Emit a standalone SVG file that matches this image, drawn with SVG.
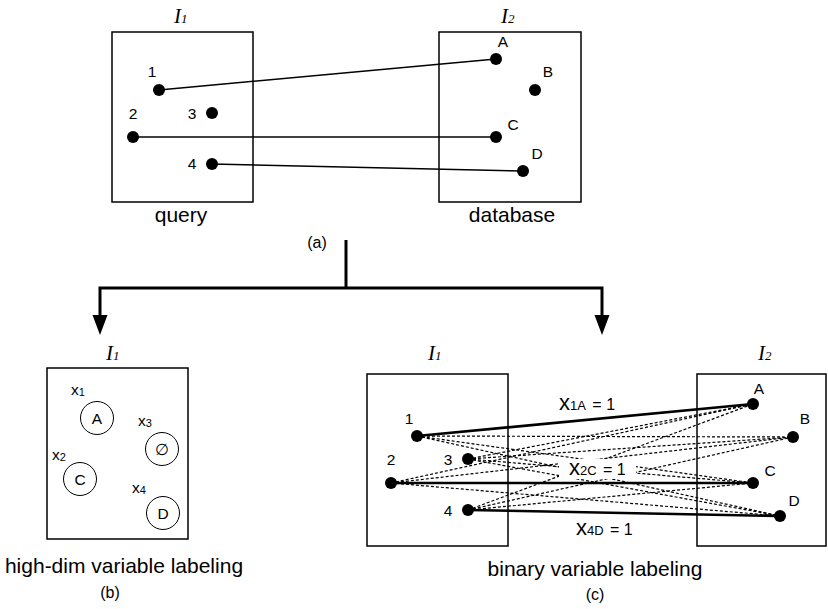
<svg xmlns="http://www.w3.org/2000/svg" width="828" height="609" viewBox="0 0 828 609">
<style>
.box{fill:#fff;stroke:#000;stroke-width:1.5}
.dot{fill:#000}
.lbl{font-family:"Liberation Sans",Arial,sans-serif;font-size:15.5px;fill:#000}
.cap{font-family:"Liberation Sans",Arial,sans-serif;font-size:21px;fill:#000;text-anchor:middle}
.sub{font-family:"Liberation Sans",Arial,sans-serif;font-size:16px;fill:#000;text-anchor:middle}
.ital{font-family:"Liberation Serif","Times New Roman",serif;font-style:italic;font-size:21px;fill:#000}
.thin{stroke:#000;stroke-width:1.5;fill:none}
.thick{stroke:#000;stroke-width:2.6;fill:none}
.dash{stroke:#000;stroke-width:1.2;stroke-dasharray:3 2;fill:none}
.arr{stroke:#000;stroke-width:3;fill:none}
.circ{fill:#fff;stroke:#000;stroke-width:1}
.mid{text-anchor:middle}
</style>
<rect width="828" height="609" fill="#fff"/>

<!-- (a) top -->
<g id="a-query">
<rect class="box" x="112" y="32" width="141" height="170"/>
<text class="ital" x="174" y="23">I<tspan font-size="13">1</tspan></text>
<text class="cap" x="181" y="222">query</text>
</g>
<g id="a-database">
<rect class="box" x="439" y="32" width="142" height="170"/>
<text class="ital" x="501" y="23">I<tspan font-size="13">2</tspan></text>
<text class="cap" x="512" y="222">database</text>
</g>
<g id="a-connectors">
<line class="thin" x1="159" y1="90" x2="496" y2="59"/>
<line class="thin" x1="133" y1="137" x2="496" y2="137"/>
<line class="thin" x1="212" y1="164" x2="523" y2="171"/>
</g>
<g id="a-points">
<circle class="dot" cx="159" cy="90" r="6"/><text class="lbl mid" x="152" y="77">1</text>
<circle class="dot" cx="133" cy="137" r="6"/><text class="lbl mid" x="133" y="119">2</text>
<circle class="dot" cx="212" cy="113" r="6"/><text class="lbl mid" x="192" y="119">3</text>
<circle class="dot" cx="212" cy="164" r="6"/><text class="lbl mid" x="192" y="169">4</text>
<circle class="dot" cx="496" cy="59" r="6"/><text class="lbl mid" x="503" y="47">A</text>
<circle class="dot" cx="535" cy="90" r="6"/><text class="lbl mid" x="548" y="77">B</text>
<circle class="dot" cx="496" cy="137" r="6"/><text class="lbl mid" x="513" y="130">C</text>
<circle class="dot" cx="523" cy="171" r="6"/><text class="lbl mid" x="537" y="159">D</text>
</g>
<text class="sub" x="317" y="248">(a)</text>

<!-- branching arrows -->
<g id="branch-connectors">
<polyline class="arr" points="346,240 346,288"/>
<polyline class="arr" points="100,318 100,288 602,288 602,318"/>
<polygon points="92.5,315 107.5,315 100,335" fill="#000"/>
<polygon points="594.5,315 609.5,315 602,335" fill="#000"/>
</g>

<!-- (b) -->
<g id="b-highdim">
<rect class="box" x="47" y="368" width="141" height="171"/>
<text class="ital" x="106" y="360">I<tspan font-size="13">1</tspan></text>
<text class="lbl" x="71" y="395" font-size="17">x<tspan font-size="11" dy="1">1</tspan></text>
<circle class="circ" cx="97" cy="418" r="16.5"/><text class="lbl mid" x="97" y="424" font-size="16.5">A</text>
<text class="lbl" x="138" y="426" font-size="17">x<tspan font-size="11" dy="1">3</tspan></text>
<circle class="circ" cx="162" cy="449" r="16.5"/><text class="lbl mid" x="162" y="455" font-size="17">∅</text>
<text class="lbl" x="52" y="460" font-size="17">x<tspan font-size="11" dy="1">2</tspan></text>
<circle class="circ" cx="80" cy="479" r="16.5"/><text class="lbl mid" x="80" y="485" font-size="16.5">C</text>
<text class="lbl" x="132" y="493" font-size="17">x<tspan font-size="11" dy="1">4</tspan></text>
<circle class="circ" cx="163" cy="513" r="16.5"/><text class="lbl mid" x="163" y="519" font-size="16.5">D</text>
<text class="cap" x="124" y="573">high-dim variable labeling</text>
<text class="sub" x="110" y="598">(b)</text>
</g>

<!-- (c) -->
<g id="c-query">
<rect class="box" x="367" y="374" width="141" height="172"/>
<text class="ital" x="428" y="360">I<tspan font-size="13">1</tspan></text>
</g>
<g id="c-database">
<rect class="box" x="697" y="374" width="129" height="172"/>
<text class="ital" x="758" y="360">I<tspan font-size="13">2</tspan></text>
</g>
<g id="c-connectors">
<line class="dash" x1="417" y1="436" x2="793" y2="437"/>
<line class="dash" x1="417" y1="436" x2="753" y2="483"/>
<line class="dash" x1="417" y1="436" x2="780" y2="516"/>
<line class="dash" x1="391" y1="483" x2="753" y2="404"/>
<line class="dash" x1="391" y1="483" x2="793" y2="437"/>
<line class="dash" x1="391" y1="483" x2="780" y2="516"/>
<line class="dash" x1="468" y1="459" x2="753" y2="404"/>
<line class="dash" x1="468" y1="459" x2="793" y2="437"/>
<line class="dash" x1="468" y1="459" x2="753" y2="483"/>
<line class="dash" x1="468" y1="459" x2="780" y2="516"/>
<line class="dash" x1="468" y1="510" x2="753" y2="404"/>
<line class="dash" x1="468" y1="510" x2="793" y2="437"/>
<line class="dash" x1="468" y1="510" x2="753" y2="483"/>
<line class="thick" x1="417" y1="436" x2="753" y2="404"/>
<line class="thick" x1="391" y1="483" x2="753" y2="483"/>
<line class="thick" x1="468" y1="510" x2="780" y2="516"/>
</g>
<g id="c-labels">
<text class="lbl" x="559" y="410"><tspan font-size="22">x</tspan><tspan font-size="13">1A</tspan><tspan font-size="16" dx="2"> = 1</tspan></text>
<rect x="559" y="459" width="77" height="20" fill="#fff"/>
<text class="lbl" x="569" y="475"><tspan font-size="22">x</tspan><tspan font-size="13">2C</tspan><tspan font-size="16" dx="2"> = 1</tspan></text>
<text class="lbl" x="576" y="535"><tspan font-size="22">x</tspan><tspan font-size="13">4D</tspan><tspan font-size="16" dx="2"> = 1</tspan></text>
</g>
<g id="c-points">
<circle class="dot" cx="417" cy="436" r="6"/><text class="lbl mid" x="409" y="424">1</text>
<circle class="dot" cx="391" cy="483" r="6"/><text class="lbl mid" x="391" y="465">2</text>
<circle class="dot" cx="468" cy="459" r="6"/><text class="lbl mid" x="448" y="465">3</text>
<circle class="dot" cx="468" cy="510" r="6"/><text class="lbl mid" x="448" y="516">4</text>
<circle class="dot" cx="753" cy="404" r="6"/><text class="lbl mid" x="759" y="394">A</text>
<circle class="dot" cx="793" cy="437" r="6"/><text class="lbl mid" x="805" y="424">B</text>
<circle class="dot" cx="753" cy="483" r="6"/><text class="lbl mid" x="770" y="476">C</text>
<circle class="dot" cx="780" cy="516" r="6"/><text class="lbl mid" x="794" y="506">D</text>
</g>
<text class="cap" x="595" y="576">binary variable labeling</text>
<text class="sub" x="595" y="600">(c)</text>
</svg>
